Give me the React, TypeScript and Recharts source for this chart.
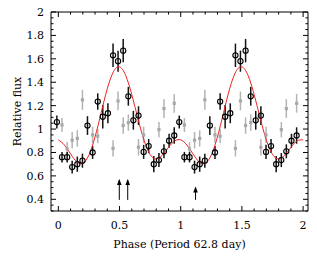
import React from 'react';
import { ComposedChart, Scatter, Line, XAxis, YAxis, ErrorBar, Label } from 'recharts';

// Primary (black) light-curve bins
const blackPhase = [-0.012, 0.030, 0.072, 0.113, 0.155, 0.197, 0.238, 0.280, 0.322, 0.363, 0.405, 0.447, 0.488, 0.530, 0.572, 0.613, 0.655, 0.697, 0.738, 0.780, 0.822, 0.863, 0.905, 0.947,
  0.988, 1.030, 1.072, 1.113, 1.155, 1.197, 1.238, 1.280, 1.322, 1.363, 1.405, 1.447, 1.488, 1.530, 1.572, 1.613, 1.655, 1.697, 1.738, 1.780, 1.822, 1.863, 1.905, 1.947];
const blackFlux = [1.06, 0.76, 0.76, 0.675, 0.70, 0.73, 1.03, 0.80, 1.235, 1.105, 1.135, 1.63, 1.58, 1.67, 1.28, 1.075, 1.115, 0.805, 0.855, 0.70, 0.735, 0.81, 0.90, 0.945,
  1.06, 0.76, 0.76, 0.675, 0.70, 0.73, 1.03, 0.80, 1.235, 1.105, 1.135, 1.63, 1.58, 1.67, 1.28, 1.075, 1.115, 0.805, 0.855, 0.70, 0.735, 0.81, 0.90, 0.945];
const blackErr = [0.055, 0.045, 0.045, 0.055, 0.065, 0.06, 0.08, 0.055, 0.07, 0.1, 0.085, 0.1, 0.09, 0.1, 0.08, 0.08, 0.08, 0.06, 0.06, 0.07, 0.06, 0.06, 0.06, 0.07,
  0.055, 0.045, 0.045, 0.055, 0.065, 0.06, 0.08, 0.055, 0.07, 0.1, 0.085, 0.1, 0.09, 0.1, 0.08, 0.08, 0.08, 0.06, 0.06, 0.07, 0.06, 0.06, 0.06, 0.07];

// Comparison (gray) bins
const grayPhase = [0.030, 0.072, 0.113, 0.155, 0.197, 0.280, 0.322, 0.447, 0.488, 0.530, 0.572, 0.655, 0.697, 0.822, 0.863, 0.947,
  1.030, 1.072, 1.113, 1.155, 1.197, 1.280, 1.322, 1.447, 1.488, 1.530, 1.572, 1.655, 1.697, 1.822, 1.863, 1.947];
const grayFlux = [1.035, 0.83, 0.905, 0.92, 1.25, 0.95, 0.94, 0.835, 1.24, 1.03, 1.055, 0.845, 0.95, 0.995, 1.175, 1.22,
  1.035, 0.83, 0.905, 0.92, 1.25, 0.95, 0.94, 0.835, 1.24, 1.03, 1.055, 0.845, 0.95, 0.995, 1.175, 1.22];
const grayErr = [0.06, 0.06, 0.07, 0.07, 0.085, 0.07, 0.06, 0.07, 0.08, 0.07, 0.07, 0.07, 0.07, 0.065, 0.08, 0.08,
  0.06, 0.06, 0.07, 0.07, 0.085, 0.07, 0.06, 0.07, 0.08, 0.07, 0.07, 0.07, 0.07, 0.065, 0.08, 0.08];

// Model curve (red)
const modelPhase = [0, 0.05, 0.1, 0.15, 0.2, 0.25, 0.3, 0.35, 0.4, 0.45, 0.5, 0.55, 0.6, 0.65, 0.7, 0.75, 0.8, 0.85, 0.9, 0.95,
  1, 1.05, 1.1, 1.15, 1.2, 1.25, 1.3, 1.35, 1.4, 1.45, 1.5, 1.55, 1.6, 1.65, 1.7, 1.75, 1.8, 1.85, 1.9, 1.95, 2];
const modelFlux = [0.9075, 0.8638, 0.7878, 0.7207, 0.7077, 0.7782, 0.9329, 1.1398, 1.3449, 1.4894, 1.5311, 1.4584, 1.2950, 1.0911, 0.9049, 0.7832, 0.7449, 0.7774, 0.8433, 0.8980,
  0.9075, 0.8638, 0.7878, 0.7207, 0.7077, 0.7782, 0.9329, 1.1398, 1.3449, 1.4894, 1.5311, 1.4584, 1.2950, 1.0911, 0.9049, 0.7832, 0.7449, 0.7774, 0.8433, 0.8980, 0.9075];

// Arrows
const arrowPhase = [0.498, 0.567, 1.121];
const arrowTip = [0.565, 0.565, 0.50];
const arrowBase = [0.395, 0.395, 0.395];

// Ticks
const xTicks = [0, 0.1, 0.2, 0.3, 0.4, 0.5, 0.6, 0.7, 0.8, 0.9, 1, 1.1, 1.2, 1.3, 1.4, 1.5, 1.6, 1.7, 1.8, 1.9, 2];
const yTicks = [0.3, 0.35, 0.4, 0.45, 0.5, 0.55, 0.6, 0.65, 0.7, 0.75, 0.8, 0.85, 0.9, 0.95, 1, 1.05, 1.1, 1.15, 1.2, 1.25, 1.3, 1.35, 1.4, 1.45, 1.5, 1.55, 1.6, 1.65, 1.7, 1.75, 1.8, 1.85, 1.9, 1.95, 2];

const X_DOMAIN = [-0.06, 2.04];
const Y_DOMAIN = [0.3, 2];
const FONT = 'DejaVu Serif';

const blackData = blackPhase.map((p, i) => ({ x: p, y: blackFlux[i], err: blackErr[i] }));
const grayData = grayPhase.map((p, i) => ({ x: p, y: grayFlux[i], err: grayErr[i] }));
const modelData = modelPhase.map((p, i) => ({ x: p, y: modelFlux[i] }));
const arrowData = arrowPhase.map((p, i) => [
  { x: p, y: arrowBase[i], head: false },
  { x: p, y: arrowTip[i], head: true },
]);

const isMajorX = (v: number) => Math.abs(Math.round(v * 2) - v * 2) < 1e-6;
const isMajorY = (v: number) => Math.abs(Math.round(v * 5) - v * 5) < 1e-6;

const BottomTick = (props: any) => {
  const { x, y, payload } = props;
  const major = isMajorX(payload.value);
  return (
    <g>
      <line x1={x} x2={x} y1={y} y2={y - (major ? 5 : 2.5)} stroke="#000" strokeWidth={1} />
      {major && (
        <text x={x} y={y + 18} textAnchor="middle" fontFamily={FONT} fontSize={11} fill="#000">
          {String(payload.value)}
        </text>
      )}
    </g>
  );
};
const TopTick = (props: any) => {
  const { x, y, payload } = props;
  const major = isMajorX(payload.value);
  return <line x1={x} x2={x} y1={y} y2={y + (major ? 5 : 2.5)} stroke="#000" strokeWidth={1} />;
};
const LeftTick = (props: any) => {
  const { x, y, payload } = props;
  const major = isMajorY(payload.value);
  return (
    <g>
      <line x1={x} x2={x + (major ? 5 : 2.5)} y1={y} y2={y} stroke="#000" strokeWidth={1} />
      {major && (
        <text x={x - 7} y={y + 4} textAnchor="end" fontFamily={FONT} fontSize={11} fill="#000">
          {String(payload.value)}
        </text>
      )}
    </g>
  );
};
const RightTick = (props: any) => {
  const { x, y, payload } = props;
  const major = isMajorY(payload.value);
  return <line x1={x} x2={x - (major ? 5 : 2.5)} y1={y} y2={y} stroke="#000" strokeWidth={1} />;
};

const OpenCircle = (props: any) => (
  <circle cx={props.cx} cy={props.cy} r={2.6} fill="none" stroke="#000" strokeWidth={1.1} />
);
const GraySquare = (props: any) => (
  <rect x={props.cx - 1.6} y={props.cy - 1.6} width={3.2} height={3.2} fill="#a8a8a8" />
);
const ArrowHead = (props: any) =>
  props.payload && props.payload.head ? (
    <path d={`M${props.cx},${props.cy - 1} l-2.3,6 l4.6,0 z`} fill="#000" />
  ) : (
    <g />
  );

export default function App() {
  return (
    <div style={{ position: 'absolute', left: 0, top: 0, background: '#fff' }}>
      <ComposedChart
        width={317}
        height={259}
        margin={{ top: 11, right: 8, bottom: 8, left: 11 }}
      >
        <XAxis
          xAxisId="b"
          type="number"
          dataKey="x"
          domain={X_DOMAIN}
          allowDataOverflow
          ticks={xTicks}
          interval={0}
          orientation="bottom"
          height={40}
          tickSize={0}
          tickMargin={0}
          tickLine={false}
          axisLine={{ stroke: '#000', strokeWidth: 1 }}
          tick={<BottomTick />}
        >
          <Label
            content={(p: any) => {
              const vb = p.viewBox;
              return (
                <text x={vb.x + vb.width / 2} y={248} textAnchor="middle" fontFamily={FONT} fontSize={11} fill="#000">
                  Phase (Period 62.8 day)
                </text>
              );
            }}
          />
        </XAxis>
        <XAxis
          xAxisId="t"
          type="number"
          dataKey="x"
          domain={X_DOMAIN}
          allowDataOverflow
          ticks={xTicks}
          interval={0}
          orientation="top"
          height={1}
          tickSize={0}
          tickMargin={0}
          tickLine={false}
          axisLine={{ stroke: '#000', strokeWidth: 1 }}
          tick={<TopTick />}
        />
        <YAxis
          yAxisId="l"
          type="number"
          domain={Y_DOMAIN}
          allowDataOverflow
          ticks={yTicks}
          interval={0}
          orientation="left"
          width={40}
          tickSize={0}
          tickMargin={0}
          tickLine={false}
          axisLine={{ stroke: '#000', strokeWidth: 1 }}
          tick={<LeftTick />}
        >
          <Label
            content={(p: any) => {
              const vb = p.viewBox;
              const cy = vb.y + vb.height / 2;
              return (
                <text
                  x={20.5}
                  y={cy}
                  transform={`rotate(-90 20.5 ${cy})`}
                  textAnchor="middle"
                  fontFamily={FONT}
                  fontSize={11}
                  fill="#000"
                >
                  Relative flux
                </text>
              );
            }}
          />
        </YAxis>
        <YAxis
          yAxisId="r"
          type="number"
          domain={Y_DOMAIN}
          allowDataOverflow
          ticks={yTicks}
          interval={0}
          orientation="right"
          width={1}
          tickSize={0}
          tickMargin={0}
          tickLine={false}
          axisLine={{ stroke: '#000', strokeWidth: 1 }}
          tick={<RightTick />}
        />

        <Scatter
          xAxisId="b"
          yAxisId="l"
          data={grayData}
          dataKey="y"
          shape={<GraySquare />}
          isAnimationActive={false}
        >
          <ErrorBar dataKey="err" direction="y" width={0} stroke="#b4b4b4" strokeWidth={1.5} isAnimationActive={false} />
        </Scatter>
        <Scatter
          xAxisId="b"
          yAxisId="l"
          data={blackData}
          dataKey="y"
          shape={<OpenCircle />}
          isAnimationActive={false}
        >
          <ErrorBar dataKey="err" direction="y" width={0} stroke="#111" strokeWidth={1.5} isAnimationActive={false} />
        </Scatter>
        <Line
          xAxisId="b"
          yAxisId="l"
          data={modelData}
          dataKey="y"
          type="natural"
          stroke="#ee2222"
          strokeWidth={1}
          dot={false}
          activeDot={false}
          isAnimationActive={false}
        />
        {arrowData.map((d, i) => (
          <Scatter
            key={i}
            xAxisId="b"
            yAxisId="l"
            data={d}
            dataKey="y"
            line={{ stroke: '#000', strokeWidth: 1 }}
            shape={<ArrowHead />}
            isAnimationActive={false}
          />
        ))}
      </ComposedChart>
    </div>
  );
}
